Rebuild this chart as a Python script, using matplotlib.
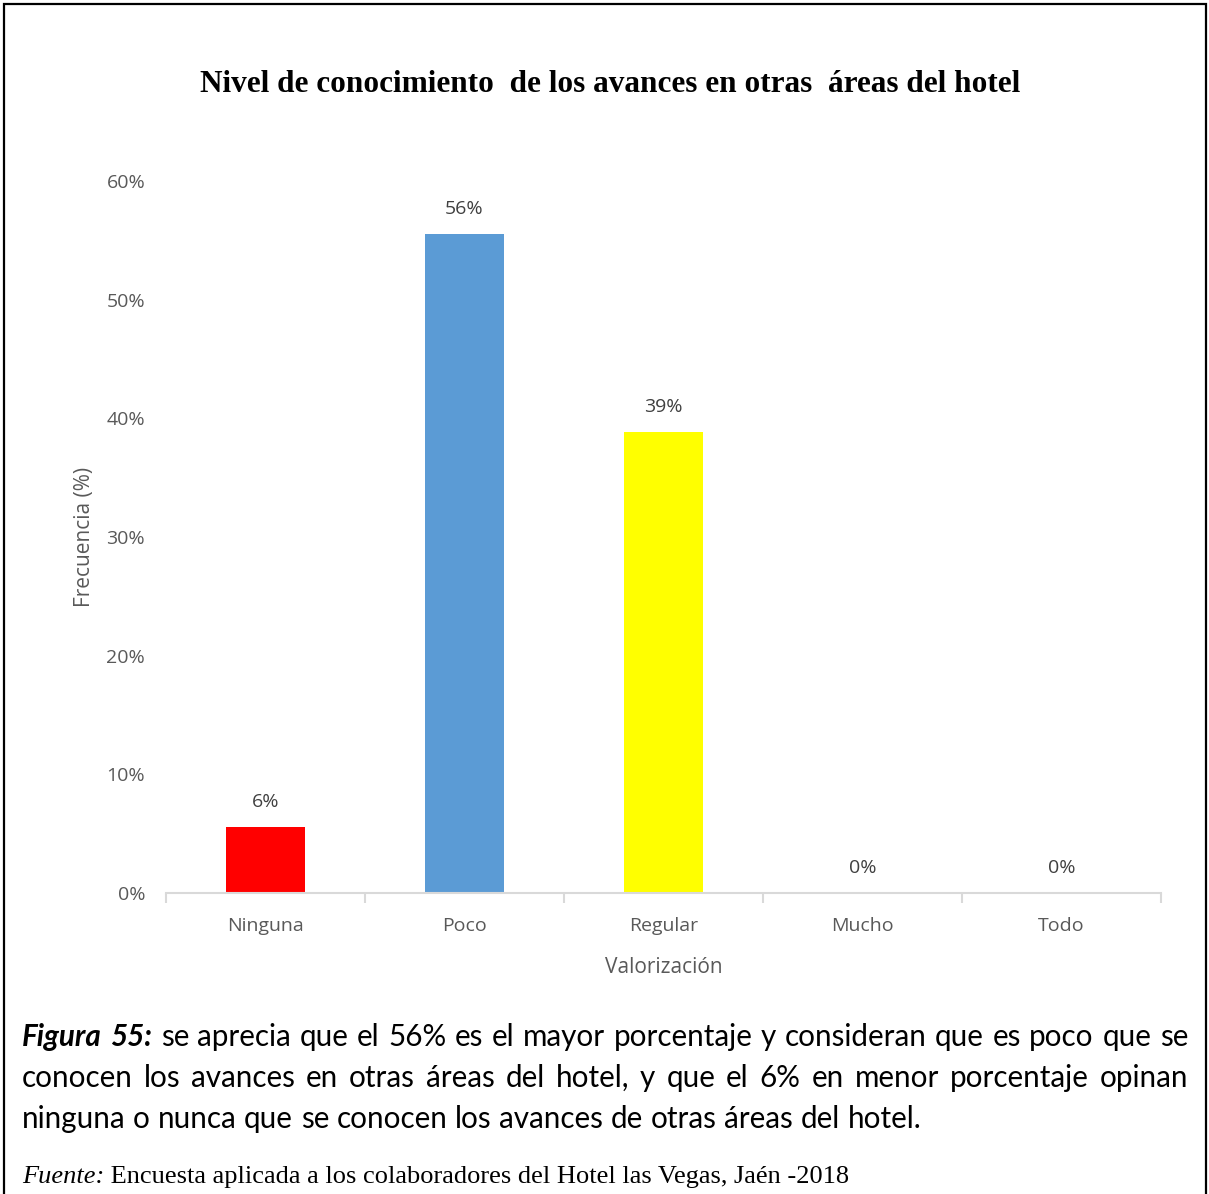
import matplotlib
matplotlib.use("Agg")
import matplotlib.pyplot as plt
from matplotlib.patches import Rectangle
from matplotlib.ticker import PercentFormatter

# Survey results
categories = ["Ninguna", "Poco", "Regular", "Mucho", "Todo"]
values = [5.56, 55.56, 38.89, 0.0, 0.0]
labels = ["6%", "56%", "39%", "0%", "0%"]
colors = ["#FF0000", "#5B9BD5", "#FFFF00", "#5B9BD5", "#5B9BD5"]
yticks = [0, 10, 20, 30, 40, 50, 60]

title = "Nivel de conocimiento  de los avances en otras  áreas del hotel"
caption_lines = [
    [("Figura 55:", True), ("se aprecia que el 56% es el mayor porcentaje y consideran que es poco que se", False)],
    [("conocen los avances en otras áreas del hotel, y que el 6% en menor porcentaje opinan", False)],
    [("ninguna o nunca que se conocen los avances de otras áreas del hotel.", False)],
]
justify = [True, True, False]
source_label = "Fuente:"
source_text = " Encuesta aplicada a los colaboradores del Hotel las Vegas, Jaén -2018"

W, H = 1209, 1194
fig = plt.figure(figsize=(W / 100, H / 100), dpi=100)
fig.patch.set_facecolor("white")

# outer frame
fig.add_artist(Rectangle((4 / W, -0.01), (W - 7) / W, (H - 4) / H + 0.01,
                         transform=fig.transFigure, fill=False,
                         edgecolor="black", linewidth=1.6))

ax = fig.add_axes([166 / W, (H - 893) / H, (1161 - 166) / W, (893 - 181) / H])
x = list(range(len(categories)))
ax.bar(x, values, width=0.4, color=colors, zorder=2)
ax.set_xlim(-0.5, len(categories) - 0.5)
ax.set_ylim(0, 60)
ax.set_yticks(yticks)
ax.yaxis.set_major_formatter(PercentFormatter(decimals=0))

for xi, v, lab in zip(x, values, labels):
    ax.annotate(lab, (xi, v), xytext=(0, 18), textcoords="offset points",
                ha="center", va="center", fontsize=14, color="#404040",
                family="Open Sans")

for s in ["top", "right", "left"]:
    ax.spines[s].set_visible(False)
ax.spines["bottom"].set_color("#D9D9D9")
ax.spines["bottom"].set_linewidth(1.5)

ax.set_xticks(x)
ax.set_xticklabels(categories)
ax.set_xticks([i - 0.5 for i in range(len(categories) + 1)], minor=True)
ax.tick_params(axis="x", which="major", length=0, pad=17, labelsize=14,
               labelcolor="#595959")
ax.tick_params(axis="x", which="minor", length=7, width=1.5, color="#D9D9D9")
ax.tick_params(axis="y", length=0, pad=15, labelsize=14, labelcolor="#595959")
for t in ax.get_xticklabels() + ax.get_yticklabels():
    t.set_family("Open Sans")

ax.set_xlabel("Valorización", fontsize=15, color="#595959", family="Open Sans",
              labelpad=16)
ax.set_ylabel("Frecuencia (%)", fontsize=15, color="#595959", family="Open Sans",
              labelpad=8)

fig.text(610 / W, 1 - 85 / H, title, ha="center", va="center",
         fontsize=22.5, fontweight="bold", family="Liberation Serif")

# justified caption
renderer = fig.canvas.get_renderer()
left_px, right_px = 22, 1188
cap_size = 21.3
line_y = [1037, 1078, 1119]


def word_width(word, bold):
    t = fig.text(0, 0, word, fontsize=cap_size, family="Lato",
                 fontweight="bold" if bold else "normal",
                 fontstyle="italic" if bold else "normal")
    w = t.get_window_extent(renderer).width
    t.remove()
    return w


space_w = word_width("a a", False) - 2 * word_width("a", False)
for line, just, yy in zip(caption_lines, justify, line_y):
    words = []
    for chunk, bold in line:
        for w in chunk.split():
            words.append((w, bold))
    widths = [word_width(w, b) for w, b in words]
    total = sum(widths)
    if just and len(words) > 1:
        gap = (right_px - left_px - total) / (len(words) - 1)
    else:
        gap = space_w
    xpos = left_px
    for (w, b), wd in zip(words, widths):
        fig.text(xpos / W, 1 - yy / H, w, fontsize=cap_size, family="Lato",
                 fontweight="bold" if b else "normal",
                 fontstyle="italic" if b else "normal",
                 color="black", va="center", ha="left")
        xpos += wd + gap

t1 = fig.text(22 / W, 1 - 1177 / H, source_label, fontsize=19, family="Liberation Serif",
              fontstyle="italic", va="center", ha="left")
w1 = t1.get_window_extent(renderer).width
fig.text((22 + w1) / W, 1 - 1177 / H, source_text, fontsize=19,
         family="Liberation Serif", va="center", ha="left")

fig.savefig("out.png", dpi=100)
